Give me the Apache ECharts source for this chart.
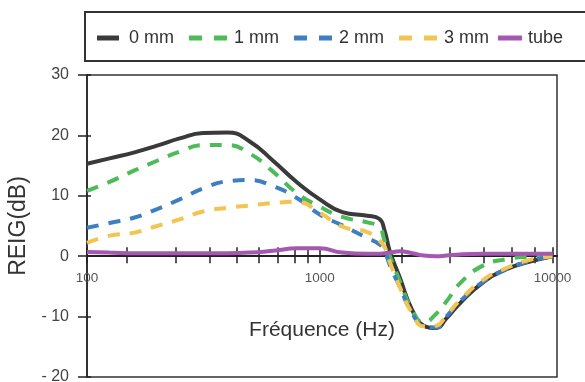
<!DOCTYPE html>
<html><head><meta charset="utf-8">
<script src="https://cdn.jsdelivr.net/npm/echarts@6/dist/echarts.min.js"></script>
<style>html,body{margin:0;padding:0;background:#fff}#c{width:585px;height:382px}</style>
</head><body><div id="c"></div>
<script>
// ---- data ----
const freqs = [100,125,160,200,250,315,400,500,630,800,1000,1250,1600,1800,1900,2000,2200,2500,2800,3150,3500,4000,5000,6300,8000,10000];
const seriesNames = ['0 mm','1 mm','2 mm','3 mm','tube'];
const v0mm = [15.3,16.2,17.2,18.3,19.5,20.4,20.5,19.0,15.8,12.2,9.4,7.3,6.7,6.2,4.2,0.8,-3.4,-9.0,-11.5,-11.9,-10.3,-7.8,-4.4,-2.2,-0.9,0];
const v1mm = [10.8,12.3,14.2,15.8,17.3,18.4,18.4,17.0,14.0,10.4,8.2,6.5,5.6,4.8,2.5,0.0,-4.0,-9.0,-11.0,-9.6,-7.5,-4.5,-1.6,-0.5,-0.1,0];
const v2mm = [4.7,5.5,6.4,7.8,9.4,11.2,12.4,12.6,11.6,9.6,6.9,5.1,3.0,2.0,0.8,-1.5,-5.0,-9.5,-11.6,-11.8,-10.0,-7.5,-4.3,-2.2,-0.8,0];
const v3mm = [2.2,3.4,3.9,5.0,6.1,7.4,8.0,8.4,8.8,9.0,7.2,4.9,4.0,2.6,1.5,-1.0,-5.0,-9.5,-11.6,-11.5,-9.8,-7.3,-4.0,-2.0,-0.6,0];
const vTube = [0.7,0.6,0.5,0.5,0.5,0.5,0.5,0.6,0.9,1.3,1.3,0.6,0.4,0.4,0.5,0.6,0.8,0.5,0.1,0.0,0.1,0.3,0.4,0.4,0.4,0.4];
const xLabelValues = [100,1000,10000];
const xTickValues = [100,148,241,338,438,547,658,781,884,1000,2250,3620,5070,6670,8400,10000];
const yMin = -20, yMax = 30, yInterval = 10;
const yName = 'REIG(dB)';
const xName = 'Fréquence (Hz)';

// ---- chart ----
const font = "'Liberation Sans', Arial, sans-serif";
const colors = ['#3a3a3a','#4dbb57','#3d7fc1','#f3c451','#a458b0'];
const values = [v0mm, v1mm, v2mm, v3mm, vTube];
const dashed = [false, true, true, true, false];

const chart = echarts.init(document.getElementById('c'), null, {renderer:'canvas'});
const series = seriesNames.map((n, i) => ({
  name: n, type: 'line', xAxisIndex: 0, yAxisIndex: 0,
  data: freqs.map((f, k) => [f, values[i][k]]),
  symbol: 'none', showSymbol: false, smooth: 0.5,
  color: colors[i],
  lineStyle: { color: colors[i], width: 4, type: dashed[i] ? [12, 10] : 'solid' },
  z: 2 + i
}));

const legText = (pad) => ({ fontSize: 18, color: '#333', fontFamily: font, padding: pad });
const dashIcon = 'path://M0,0H13V5H0Z M25,0H38V5H25Z';

chart.setOption({
  animation: false,
  backgroundColor: '#fff',
  textStyle: { fontFamily: font },
  grid: { left: 87, right: 28, top: 75, bottom: 5, show: true, borderColor: '#333', borderWidth: 1.5,
          backgroundColor: 'transparent', containLabel: false, outerBoundsMode: 'none' },
  graphic: [{ type: 'rect', shape: { x: 85, y: 12, width: 560, height: 49 }, style: { fill: 'none', stroke: '#333', lineWidth: 2 }, z: 0 }],
  legend: [
    { data: [{ name: '0 mm', icon: 'rect' }], left: 97, top: 29, padding: 0, itemWidth: 22, itemHeight: 5, textStyle: legText([0,0,0,5]) },
    { data: [{ name: '1 mm', icon: dashIcon }, { name: '2 mm', icon: dashIcon }, { name: '3 mm', icon: dashIcon }],
      left: 189, top: 29, padding: 0, itemWidth: 38, itemHeight: 5, itemGap: 15, textStyle: legText([0,0,0,2]) },
    { data: [{ name: 'tube', icon: 'rect' }], left: 498, top: 29, padding: 0, itemWidth: 24, itemHeight: 5, textStyle: legText([0,0,0,1]) }
  ],
  xAxis: [
    { type: 'log', logBase: 10, min: 100, max: 10450, position: 'bottom',
      axisLine: { onZero: true, lineStyle: { color: '#222', width: 2 } },
      axisTick: { customValues: xTickValues, length: 7, lineStyle: { color: '#222', width: 1.5 } },
      axisLabel: { customValues: xLabelValues, fontSize: 13.5, color: '#555', margin: -106, fontFamily: font,
        formatter: v => String(Math.round(v)) },
      splitLine: { show: false }, minorTick: { show: false },
      name: xName, nameLocation: 'middle', nameGap: -57,
      nameTextStyle: { fontSize: 21, color: '#333', fontFamily: font } },
    { type: 'log', logBase: 10, min: 100, max: 10450, position: 'bottom',
      axisLine: { show: false, onZero: true },
      axisTick: { customValues: xTickValues, inside: true, length: 9, lineStyle: { color: '#222', width: 1.5 } },
      axisLabel: { show: false }, splitLine: { show: false } }
  ],
  yAxis: [
    { type: 'value', min: yMin, max: yMax, interval: yInterval, position: 'left',
      axisLine: { show: true, lineStyle: { color: '#222', width: 1.5 } },
      axisTick: { show: true, length: 9, lineStyle: { color: '#222', width: 1.5 } },
      axisLabel: { fontSize: 16, color: '#444', margin: 18, fontFamily: font,
        formatter: v => v < 0 ? '- ' + Math.abs(v) : String(v) },
      splitLine: { show: false },
      name: yName, nameLocation: 'middle', nameGap: 51,
      nameTextStyle: { fontSize: 23, color: '#333', fontFamily: font } },
    { type: 'value', min: yMin, max: yMax, interval: yInterval, position: 'left',
      axisLine: { show: false },
      axisTick: { show: true, inside: true, length: 4, lineStyle: { color: '#222', width: 1.5 } },
      axisLabel: { show: false }, splitLine: { show: false } }
  ],
  series: series
});
</script>
</body></html>
